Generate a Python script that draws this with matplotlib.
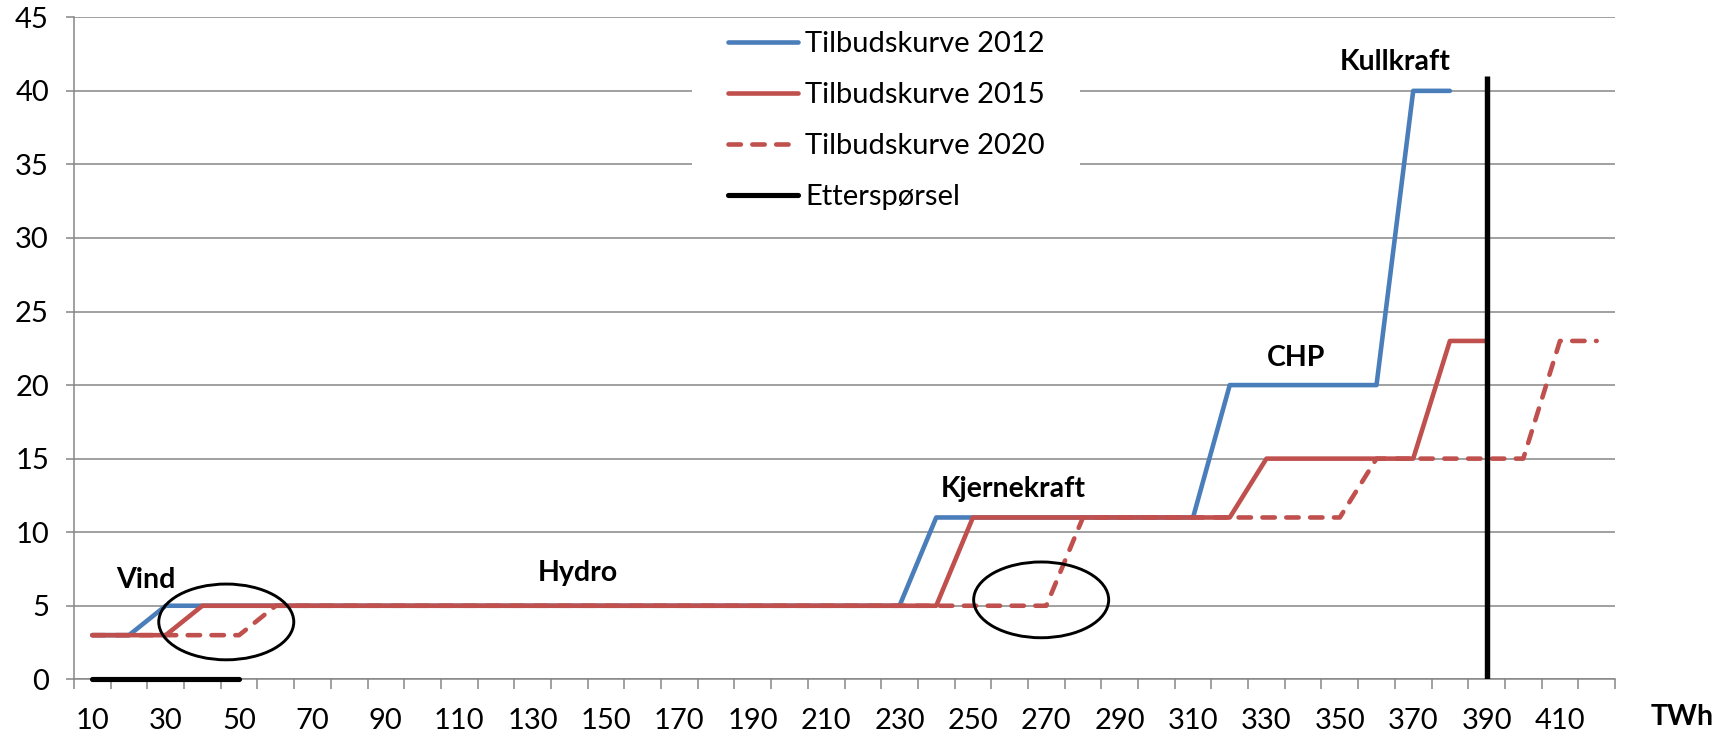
import numpy as np
import matplotlib
matplotlib.use('Agg')
import matplotlib.pyplot as plt
from matplotlib.patches import Ellipse, Rectangle

nan = np.nan

# --- Data (TWh categories, price levels)
twh = [10, 20, 30, 40, 50, 60, 70, 80, 90, 100,
       110, 120, 130, 140, 150, 160, 170, 180, 190, 200,
       210, 220, 230, 240, 250, 260, 270, 280, 290, 300,
       310, 320, 330, 340, 350, 360, 370, 380, 390, 400,
       410, 420]

supply_2012 = [3, 3, 5, 5, 5, 5, 5, 5, 5, 5,
               5, 5, 5, 5, 5, 5, 5, 5, 5, 5,
               5, 5, 5, 11, 11, 11, 11, 11, 11, 11,
               11, 20, 20, 20, 20, 20, 40, 40, nan, nan,
               nan, nan]
supply_2015 = [3, 3, 3, 5, 5, 5, 5, 5, 5, 5,
               5, 5, 5, 5, 5, 5, 5, 5, 5, 5,
               5, 5, 5, 5, 11, 11, 11, 11, 11, 11,
               11, 11, 15, 15, 15, 15, 15, 23, 23, nan,
               nan, nan]
supply_2020 = [3, 3, 3, 3, 3, 5, 5, 5, 5, 5,
               5, 5, 5, 5, 5, 5, 5, 5, 5, 5,
               5, 5, 5, 5, 5, 5, 5, 11, 11, 11,
               11, 11, 11, 11, 11, 15, 15, 15, 15, 15,
               23, 23]

demand_twh = [10, 20, 30, 40, 50]
demand_price = [0, 0, 0, 0, 0]
demand_line_twh = 390
demand_line_top = 41

labels = ['Tilbudskurve 2012', 'Tilbudskurve 2015', 'Tilbudskurve 2020', 'Etterspørsel']
annotations = [('Vind', 24.6, 6.75), ('Hydro', 142.2, 7.23), ('Kjernekraft', 261.1, 12.94),
               ('CHP', 338, 21.84), ('Kullkraft', 365.2, 41.96)]
circles = [(46.5, 3.9), (268.6, 5.4)]

cBlue = '#4A7EBB'
cRed = '#C0504D'
cGrid = '#868686'

plt.rcParams['font.family'] = ['Lato', 'DejaVu Sans']
fs = 21

fig = plt.figure(figsize=(17.27, 7.36), dpi=100)
ax = fig.add_axes([74/1727, 1-679.3/736, (1615-74)/1727, (679.3-17.3)/736])

lw = 3.3
ax.plot(twh, supply_2012, '-', color=cBlue, lw=lw, label=labels[0],
        solid_capstyle='round', solid_joinstyle='round', zorder=3)
ax.plot(twh, supply_2015, '-', color=cRed, lw=lw, label=labels[1],
        solid_capstyle='round', solid_joinstyle='round', zorder=4)
ax.plot(twh, supply_2020, color=cRed, lw=lw, label=labels[2], dashes=(2.7, 2.5),
        dash_capstyle='round', dash_joinstyle='round', zorder=5)
ax.plot(demand_twh, demand_price, '-', color='black', lw=lw+0.4, label=labels[3],
        solid_capstyle='round', zorder=6, clip_on=False)
ax.plot([demand_line_twh, demand_line_twh], [0, demand_line_top], '-', color='black',
        lw=3.9, solid_capstyle='butt', zorder=6)

for (cx, cy) in circles:
    ax.add_patch(Ellipse((cx, cy), 36.8, 5.15, fill=False, ec='black', lw=2.1, zorder=7))

for txt, x, y in annotations:
    ax.text(x, y, txt, fontsize=fs-0.5, fontweight='bold', ha='center', va='center', zorder=8)

# white box behind legend hides gridlines
ax.add_patch(Rectangle((173.5, 31.6), 105.8, 13.2, fc='white', ec='none', zorder=1))
leg = ax.legend(loc='upper left', bbox_to_anchor=(728/1727, 1-31/736), bbox_transform=fig.transFigure,
                frameon=False, fontsize=fs, handlelength=2.4, handletextpad=0.25,
                labelspacing=0.86, borderpad=0.0, borderaxespad=0.0)

ax.set_xlim(5, 425)
ax.set_ylim(0, 45)
ax.set_xticks(np.arange(5, 426, 10))
ax.set_xticklabels([])
ax.set_xticks(twh[0:41:2], minor=True)
ax.set_xticklabels([str(v) for v in twh[0:41:2]], minor=True)
ax.tick_params(axis='x', which='major', length=7.5, width=1.1, color=cGrid)
ax.tick_params(axis='x', which='minor', length=0, pad=21, labelsize=fs)
ax.set_yticks(np.arange(0, 46, 5))
ax.tick_params(axis='y', length=6, width=1.1, color=cGrid, pad=12, labelsize=fs)

ax.set_axisbelow(True)
ax.grid(axis='y', color=cGrid, lw=1.1)
for s in ['top', 'right']:
    ax.spines[s].set_visible(False)
for s in ['left', 'bottom']:
    ax.spines[s].set_color(cGrid)
    ax.spines[s].set_linewidth(1.1)

fig.text(1682/1727, 1-717/736, 'TWh', fontsize=fs-0.5, fontweight='bold', ha='center', va='center')

fig.savefig('out.png', dpi=100)
